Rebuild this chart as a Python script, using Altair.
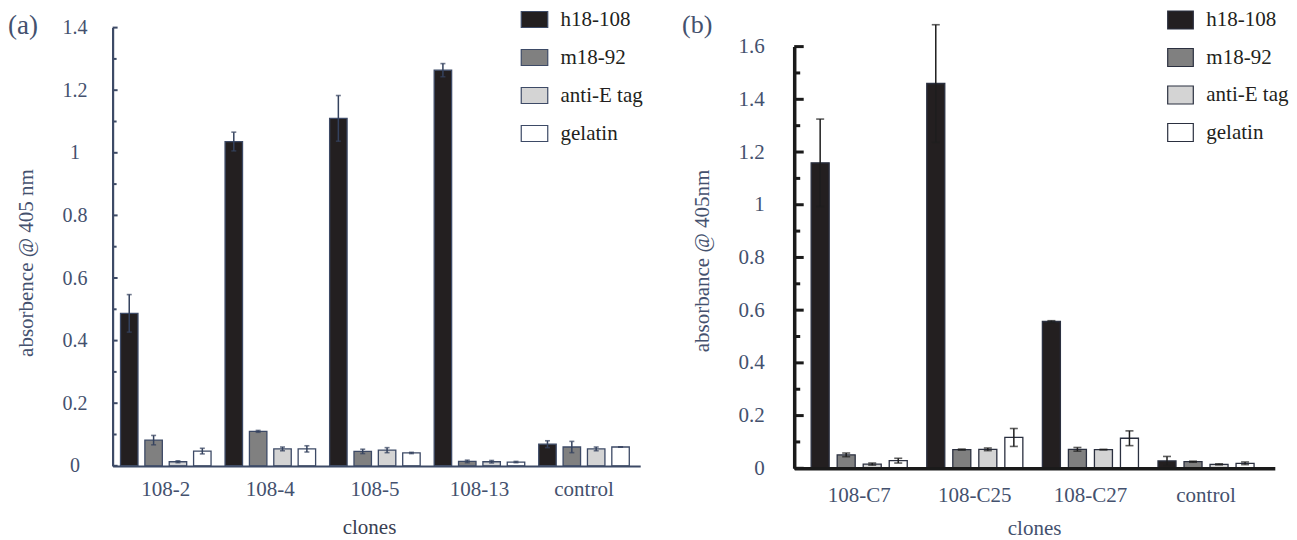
import altair as alt
import pandas as pd

FONT = "Liberation Serif, DejaVu Serif, serif"

series = ["h18-108", "m18-92", "anti-E tag", "gelatin"]
fills = ["#231f20", "#808080", "#d4d4d4", "#ffffff"]

# ---- panel (a)
clones_a = ["108-2", "108-4", "108-5", "108-13", "control"]
h18_a = [0.487, 1.036, 1.110, 1.264, 0.069]
h18_a_err = [0.060, 0.030, 0.073, 0.021, 0.011]
m18_a = [0.082, 0.110, 0.046, 0.014, 0.060]
m18_a_err = [0.015, 0.003, 0.007, 0.004, 0.018]
antie_a = [0.013, 0.054, 0.050, 0.013, 0.054]
antie_a_err = [0.003, 0.006, 0.008, 0.004, 0.006]
gel_a = [0.047, 0.054, 0.041, 0.012, 0.060]
gel_a_err = [0.009, 0.010, 0.002, 0.002, 0.0]
labels_a = [0, 0.2, 0.4, 0.6, 0.8, 1.0, 1.2, 1.4]
minor_a = [0.1, 0.3, 0.5, 0.7, 0.9, 1.1, 1.3]

# ---- panel (b)
clones_b = ["108-C7", "108-C25", "108-C27", "control"]
h18_b = [1.159, 1.460, 0.557, 0.028]
h18_b_err = [0.166, 0.223, 0.003, 0.017]
m18_b = [0.051, 0.071, 0.072, 0.025]
m18_b_err = [0.007, 0.002, 0.007, 0.002]
antie_b = [0.016, 0.072, 0.071, 0.015]
antie_b_err = [0.004, 0.005, 0.001, 0.002]
gel_b = [0.029, 0.117, 0.114, 0.019]
gel_b_err = [0.009, 0.034, 0.028, 0.005]
labels_b = [0, 0.2, 0.4, 0.6, 0.8, 1.0, 1.2, 1.4, 1.6]
minor_b = [0.1, 0.3, 0.5, 0.7, 0.9, 1.1, 1.3, 1.5]


def long_table(clones, vals, errs):
    rows = []
    for s, vl, el in zip(series, vals, errs):
        for c, v, e in zip(clones, vl, el):
            rows.append({"clone": c, "series": s, "value": v, "lo": v - e, "hi": v + e})
    return pd.DataFrame(rows)


df_a = long_table(clones_a, [h18_a, m18_a, antie_a, gel_a],
                  [h18_a_err, m18_a_err, antie_a_err, gel_a_err])
df_b = long_table(clones_b, [h18_b, m18_b, antie_b, gel_b],
                  [h18_b_err, m18_b_err, antie_b_err, gel_b_err])

H = 532
TXT = "#44516e"


def panel(df, clones, labels, minors, c):
    xscale = alt.Scale(domain=clones, range=c["xrange"], paddingInner=c["pi"],
                       paddingOuter=c["po"], align=c["align"])
    xaxis = alt.Axis(orient="bottom", offset=c["xoff"], title="", ticks=False, grid=False,
                     domainColor=c["axis"], domainWidth=c["aw"], labelAngle=0,
                     labelFont=FONT, labelFontSize=21, labelColor=TXT,
                     labelPadding=c["xlp"], zindex=1)
    yscale = alt.Scale(domain=[0, labels[-1]], range=c["yrange"], nice=False, zero=True)
    yaxis = alt.Axis(orient="left", offset=c["yoff"], title="", ticks=False, grid=False,
                     values=labels, format="~g", domainColor=c["axis"], domainWidth=c["aw"],
                     labelFont=FONT, labelFontSize=c["ylfs"], labelColor=TXT,
                     labelAlign=c["yla"], labelBaseline="middle", labelPadding=c["ylp"],
                     zindex=1)

    def X():
        return alt.X("clone:N", scale=xscale, axis=xaxis)

    def Y(f):
        return alt.Y(f + ":Q", scale=yscale, axis=yaxis)

    xo = alt.XOffset("series:N", scale=alt.Scale(domain=series, paddingInner=c["opi"], paddingOuter=0))

    legend = alt.Legend(title=None, orient="none", legendX=c["lx"], legendY=c["ly"],
                        direction="vertical", symbolType=c["sym"], symbolSize=c["ssize"],
                        symbolStrokeColor=c["stroke"], symbolStrokeWidth=1.2, symbolOpacity=1,
                        labelFont=FONT, labelFontSize=21, labelColor="#231f20",
                        labelOffset=c["lo"], rowPadding=c["rp"], padding=0, labelLimit=400)

    bars = alt.Chart(df).mark_bar(stroke=c["stroke"], strokeWidth=1.3, opacity=1).encode(
        x=X(), xOffset=xo, y=Y("value"),
        fill=alt.Fill("series:N", scale=alt.Scale(domain=series, range=fills), legend=legend),
    )
    err = alt.Chart(df).mark_rule(color=c["err"], strokeWidth=1.5).encode(
        x=X(), xOffset=xo, y=Y("lo"), y2="hi:Q")
    cap_hi = alt.Chart(df).mark_tick(color=c["err"], thickness=1.6, size=c["cap"]).encode(
        x=X(), xOffset=xo, y=Y("hi"))
    cap_lo = alt.Chart(df).mark_tick(color=c["err"], thickness=1.6, size=c["cap"]).encode(
        x=X(), xOffset=xo, y=Y("lo"))
    tmaj = alt.Chart(pd.DataFrame({"value": labels})).mark_rule(
        color=c["axis"], strokeWidth=c["tw"]).encode(
        x=alt.value(c["yx"]), x2=alt.value(c["yx"] + c["tmaj"]), y=Y("value"))
    tmin = alt.Chart(pd.DataFrame({"value": minors})).mark_rule(
        color=c["axis"], strokeWidth=c["tw"]).encode(
        x=alt.value(c["yx"]), x2=alt.value(c["yx"] + c["tmin"]), y=Y("value"))
    return alt.layer(bars, err, cap_hi, cap_lo, tmaj, tmin)


cfg_a = dict(xrange=[104.6, 632.2], pi=0.134, po=0.09, align=0.42, opi=0.283,
             xoff=-(H - 458), axis="#3d4a66", aw=2.2, xlp=12.6,
             yrange=[457.8, 19.6], yoff=-104.6, yx=104.6, ylfs=20, yla="center", ylp=38,
             lx=516, ly=1, sym="M-1.656,-1H1.656V1H-1.656Z", ssize=256, stroke="#3d4a66",
             lo=15.5, rp=16, err="#34425e", cap=5, tw=2, tmaj=5, tmin=4)
cfg_b = dict(xrange=[786.2, 1266.8], pi=0.169, po=0.163, align=0.45, opi=0.308,
             xoff=-(H - 460.3), axis="#1a1a1a", aw=3.5, xlp=15.7,
             yrange=[460.3, 38.6], yoff=-786.2, yx=786.2, ylfs=21, yla="right", ylp=30,
             lx=1162, ly=1.5, sym="M-1.422,-1H1.422V1H-1.422Z", ssize=324, stroke="#2b3040",
             lo=15.3, rp=14.5, err="#1e1e1e", cap=8, tw=3, tmaj=9.5, tmin=6)

pa = panel(df_a, clones_a, labels_a, minor_a, cfg_a)
pb = panel(df_b, clones_b, labels_b, minor_b, cfg_b)

texts = pd.DataFrame({
    "t": ["(a)", "(b)", "absorbence @ 405 nm", "absorbance @ 405nm", "clones", "clones"],
    "px": [0, 674, 19.4, 695, 361.5, 1026.6],
    "py": [17.5, 16.5, 255, 253, 520, 521.2],
})


def txt(i, size, angle, align, color):
    d = texts.iloc[[i]]
    return alt.Chart(d).mark_text(font=FONT, fontSize=size, angle=angle, align=align,
                                  baseline="middle", color=color).encode(
        text="t:N", x=alt.value(float(d["px"].iloc[0])), y=alt.value(float(d["py"].iloc[0])))


title_layers = [
    txt(0, 27, 0, "left", TXT),
    txt(1, 26, 0, "left", TXT),
    txt(2, 21, 270, "center", TXT),
    txt(3, 21, 270, "center", TXT),
    txt(4, 21, 0, "center", "#3a4052"),
    txt(5, 21, 0, "center", TXT),
]

chart = alt.layer(pa, pb, *title_layers).resolve_scale(
    x="independent", y="independent", xOffset="independent", fill="independent"
).properties(
    width=1281, height=H, padding=0, background="white",
    autosize=alt.AutoSizeParams(type="none")
).configure_view(strokeWidth=0, stroke="transparent")

chart.save("out.html", embed_options={"renderer": "svg", "actions": False})
